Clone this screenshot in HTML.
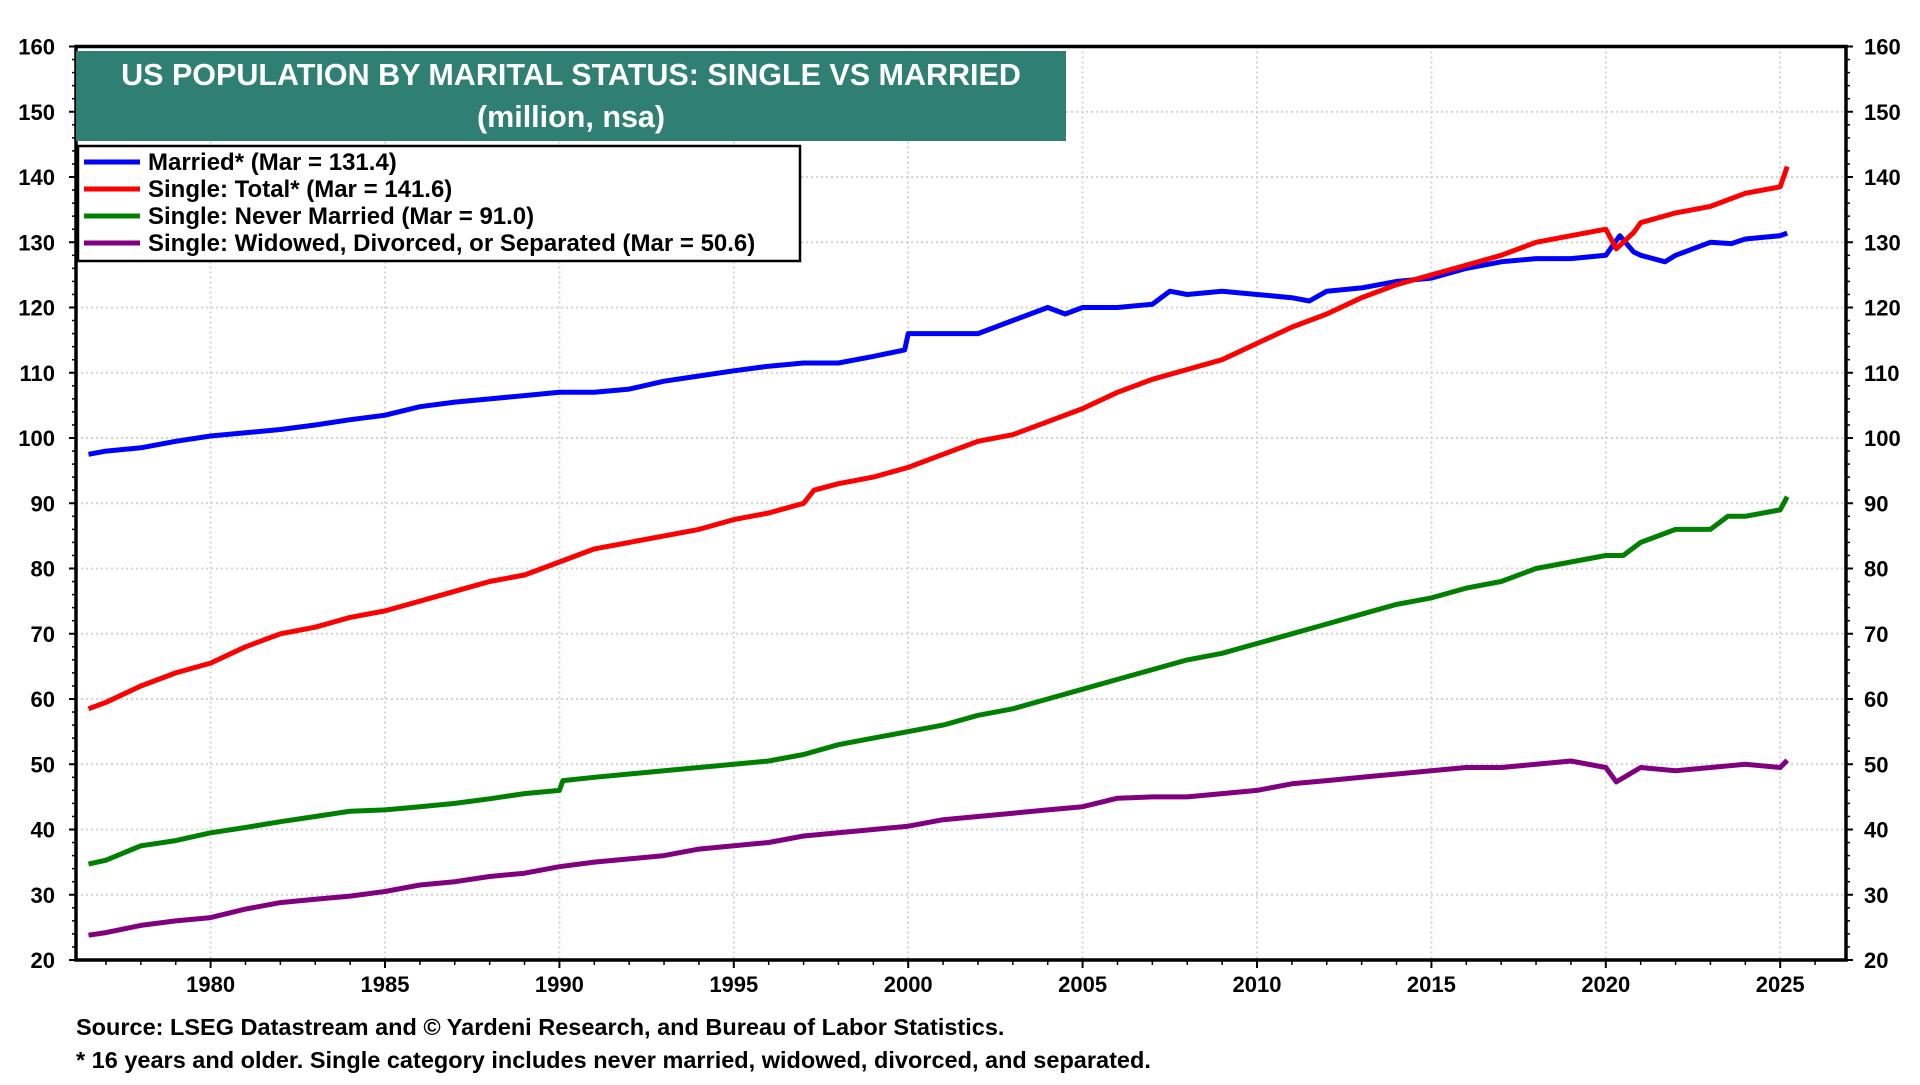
<!DOCTYPE html>
<html><head><meta charset="utf-8">
<style>
html,body{margin:0;padding:0;background:#fff;}
body{width:1920px;height:1080px;overflow:hidden;font-family:"Liberation Sans",Arial,sans-serif;}
svg text{font-family:"Liberation Sans",Arial,sans-serif;font-weight:bold;}
</style></head>
<body>
<svg id="chart" width="1920" height="1080" xmlns="http://www.w3.org/2000/svg">
<g id="grid"></g>
<g id="series"></g>
<g id="axes"></g>
<g>
<rect x="76" y="51" width="990" height="90" fill="#2f7f72"/>
<text x="571" y="85" fill="#fff" font-size="30.5" text-anchor="middle">US POPULATION BY MARITAL STATUS: SINGLE VS MARRIED</text>
<text x="571" y="127" fill="#fff" font-size="30.5" text-anchor="middle">(million, nsa)</text>
</g>
<g>
<rect x="78" y="146" width="722" height="115" fill="#fff" stroke="#000" stroke-width="2.5"/>
<g><line x1="84" y1="162" x2="140" y2="162" stroke="#0000ff" stroke-width="5"/><text x="148" y="170" font-size="24">Married* (Mar = 131.4)</text></g>
<g><line x1="84" y1="189" x2="140" y2="189" stroke="#ff0000" stroke-width="5"/><text x="148" y="197" font-size="24">Single: Total* (Mar = 141.6)</text></g>
<g><line x1="84" y1="216" x2="140" y2="216" stroke="#008000" stroke-width="5"/><text x="148" y="224" font-size="24">Single: Never Married (Mar = 91.0)</text></g>
<g><line x1="84" y1="243" x2="140" y2="243" stroke="#800080" stroke-width="5"/><text x="148" y="251" font-size="24">Single: Widowed, Divorced, or Separated (Mar = 50.6)</text></g>
</g>
<text x="76" y="1035" font-size="23.5">Source: LSEG Datastream and © Yardeni Research, and Bureau of Labor Statistics.</text>
<text x="76" y="1068" font-size="23.5">* 16 years and older. Single category includes never married, widowed, divorced, and separated.</text>
</svg>
<script>
const yTicks=[20,30,40,50,60,70,80,90,100,110,120,130,140,150,160];
const xTickYears=[1980,1985,1990,1995,2000,2005,2010,2015,2020,2025];
const marriedT=[1976.5,1977,1978,1979,1980,1981,1982,1983,1984,1985,1986,1987,1988,1989,1990,1991,1992,1993,1994,1995,1996,1997,1998,1999,1999.9,2000,2001,2002,2003,2004,2004.5,2005,2006,2007,2007.5,2008,2009,2010,2011,2011.5,2012,2013,2014,2015,2016,2017,2018,2019,2020,2020.4,2020.8,2021,2021.7,2022,2023,2023.6,2024,2025,2025.2];
const marriedV=[97.5,98,98.5,99.5,100.3,100.8,101.3,102,102.8,103.5,104.8,105.5,106,106.5,107,107,107.5,108.7,109.5,110.3,111,111.5,111.5,112.5,113.5,116,116,116,118,120,119,120,120,120.5,122.5,122,122.5,122,121.5,121,122.5,123,124,124.5,126,127,127.5,127.5,128,131,128.5,128,127,128,130,129.8,130.5,131,131.4];
const singleT=[1976.5,1977,1978,1979,1980,1981,1982,1983,1984,1985,1986,1987,1988,1989,1990,1991,1992,1993,1994,1995,1996,1997,1997.3,1998,1999,2000,2001,2002,2003,2004,2005,2006,2007,2008,2009,2010,2011,2012,2013,2014,2015,2016,2017,2018,2019,2020,2020.3,2020.8,2021,2022,2023,2024,2025,2025.2];
const singleV=[58.5,59.5,62,64,65.5,68,70,71,72.5,73.5,75,76.5,78,79,81,83,84,85,86,87.5,88.5,90,92,93,94,95.5,97.5,99.5,100.5,102.5,104.5,107,109,110.5,112,114.5,117,119,121.5,123.5,125,126.5,128,130,131,132,129,131.5,133,134.5,135.5,137.5,138.5,141.6];
const neverT=[1976.5,1977,1978,1979,1980,1981,1982,1983,1984,1985,1986,1987,1988,1989,1990,1990.1,1991,1992,1993,1994,1995,1996,1997,1998,1999,2000,2001,2002,2003,2004,2005,2006,2007,2008,2009,2010,2011,2012,2013,2014,2015,2016,2017,2018,2019,2020,2020.5,2021,2022,2023,2023.5,2024,2025,2025.2];
const neverV=[34.7,35.3,37.5,38.3,39.5,40.3,41.2,42,42.8,43,43.5,44,44.7,45.5,46,47.5,48,48.5,49,49.5,50,50.5,51.5,53,54,55,56,57.5,58.5,60,61.5,63,64.5,66,67,68.5,70,71.5,73,74.5,75.5,77,78,80,81,82,82,84,86,86,88,88,89,91];
const widT=[1976.5,1977,1978,1979,1980,1981,1982,1983,1984,1985,1986,1987,1988,1989,1990,1991,1992,1993,1994,1995,1996,1997,1998,1999,2000,2001,2002,2003,2004,2005,2006,2007,2008,2009,2010,2011,2012,2013,2014,2015,2016,2017,2018,2019,2020,2020.3,2021,2022,2023,2024,2025,2025.2];
const widV=[23.8,24.2,25.3,26,26.5,27.8,28.8,29.3,29.8,30.5,31.5,32,32.8,33.3,34.3,35,35.5,36,37,37.5,38,39,39.5,40,40.5,41.5,42,42.5,43,43.5,44.8,45,45,45.5,46,47,47.5,48,48.5,49,49.5,49.5,50,50.5,49.5,47.3,49.5,49,49.5,50,49.5,50.6];

const L=76,R=1846,T=46.5,B=960;
const x=t=>210.6+(t-1980)*34.88;
const y=v=>B-(v-20)*(B-T)/140;
const NS='http://www.w3.org/2000/svg';
function mk(tag,attrs,parent){const e=document.createElementNS(NS,tag);for(const k in attrs)e.setAttribute(k,attrs[k]);parent.appendChild(e);return e;}
const grid=document.getElementById('grid'),axes=document.getElementById('axes'),series=document.getElementById('series');
yTicks.forEach(v=>{
 if(v>20&&v<160){const g=mk('line',{x1:L,x2:R,y1:y(v),y2:y(v),stroke:'#d4d4d4','stroke-width':2,'stroke-dasharray':'2,3'},grid);
 
 }
 const a=mk('text',{x:55,y:y(v)+8,'font-size':22,'text-anchor':'end'},axes);a.textContent=v;
 
 
 const b=mk('text',{x:1864,y:y(v)+8,'font-size':22},axes);b.textContent=v;
 
 
 mk('line',{x1:L-7,x2:L,y1:y(v),y2:y(v),stroke:'#000','stroke-width':2},axes);
 mk('line',{x1:R,x2:R+7,y1:y(v),y2:y(v),stroke:'#000','stroke-width':2},axes);
});
for(let v=22;v<160;v+=2){if(v%10){mk('line',{x1:L-4,x2:L,y1:y(v),y2:y(v),stroke:'#000','stroke-width':1.5},axes);mk('line',{x1:R,x2:R+4,y1:y(v),y2:y(v),stroke:'#000','stroke-width':1.5},axes);}}
xTickYears.forEach(t=>{
 const g=mk('line',{x1:x(t),x2:x(t),y1:T,y2:B,stroke:'#d4d4d4','stroke-width':2,'stroke-dasharray':'2,3'},grid);
 
 
 const a=mk('text',{x:x(t),y:B+32,'font-size':22,'text-anchor':'middle'},axes);a.textContent=t;
 
 
 mk('line',{x1:x(t),x2:x(t),y1:B,y2:B+8,stroke:'#000','stroke-width':2},axes);
});
for(let t=1977;t<=2026;t++){if(t%5)mk('line',{x1:x(t),x2:x(t),y1:B,y2:B+5,stroke:'#000','stroke-width':1.5},axes);}
mk('rect',{x:L,y:T,width:R-L,height:B-T,fill:'none',stroke:'#000','stroke-width':3.5},axes);
function line(ts,vs,color,name){
 const d=ts.map((t,i)=>(i?'L':'M')+x(t).toFixed(1)+','+y(vs[i]).toFixed(1)).join(' ');
 const p=mk('path',{d:d,fill:'none',stroke:color,'stroke-width':5,'stroke-linejoin':'round'},series);
 
 
}
line(widT,widV,'#800080','line-widowed-divorced-separated');
line(neverT,neverV,'#008000','line-never-married');
line(marriedT,marriedV,'#0000ff','line-married');
line(singleT,singleV,'#ff0000','line-single-total');
</script>
</body></html>
